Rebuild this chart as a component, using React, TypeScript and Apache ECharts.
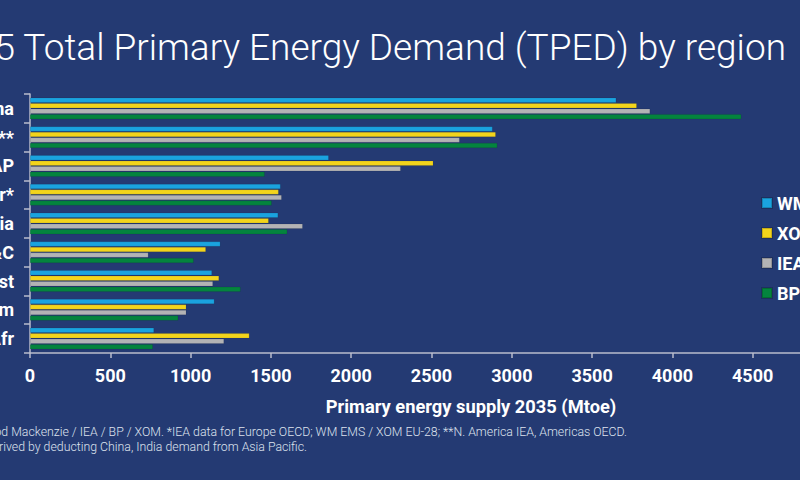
import React, { useEffect, useRef } from "react";
import * as echarts from "echarts";

const categories = ["China", "N. Am**", "Oth AP", "Eur*", "India", "Rus&C", "Mid East", "Lat Am", "Afr"];
const seriesNames = ["WM", "XOM", "IEA", "BP"];
const wmValues = [3650, 2880, 1860, 1560, 1545, 1185, 1133, 1148, 772];
const xomValues = [3778, 2900, 2511, 1548, 1486, 1095, 1177, 973, 1366];
const ieaValues = [3861, 2675, 2308, 1567, 1698, 737, 1139, 973, 1208];
const bpValues = [4429, 2910, 1461, 1505, 1602, 1019, 1311, 923, 765];
const colors = ["#1aa3df", "#f2d41c", "#b3b3b5", "#04843e"];
const xTicks = { min: 0, max: 5000, interval: 500 };

const titleText = "2035 Total Primary Energy Demand (TPED) by region";
const axisNameText = "Primary energy supply 2035 (Mtoe)";
const footnote1 = "Source: Wood Mackenzie / IEA / BP / XOM. *IEA data for Europe OECD; WM EMS / XOM EU-28; **N. America IEA, Americas OECD.";
const footnote2 = "***Other AP derived by deducting China, India demand from Asia Pacific.";

export default function App() {
  const ref = useRef<HTMLDivElement>(null);
  useEffect(() => {
    document.body.style.margin = "0";
    const chart = echarts.init(ref.current!, null, { renderer: "svg" });
    const values = [wmValues, xomValues, ieaValues, bpValues];
    chart.setOption({
      animation: false,
      backgroundColor: "#243a73",
      textStyle: { fontFamily: "Roboto" },
      grid: { left: 30, top: 94, width: 803, height: 259, containLabel: false, outerBoundsMode: "none" },
      legend: {
        orient: "vertical",
        left: 761,
        top: 194,
        padding: 0,
        icon: "rect",
        itemWidth: 10,
        itemHeight: 10,
        itemGap: 12,
        textStyle: { color: "#ffffff", fontSize: 18, fontWeight: "bold", lineHeight: 18, fontFamily: "Roboto" },
        data: seriesNames,
      },
      xAxis: {
        type: "value",
        min: xTicks.min,
        max: xTicks.max,
        interval: xTicks.interval,
        splitLine: { show: false },
        axisLine: { show: true, lineStyle: { color: "#b9bdcc", width: 1.5 } },
        axisTick: { show: true, length: 5, lineStyle: { color: "#b9bdcc", width: 1.5 } },
        axisLabel: {
          color: "#ffffff",
          fontSize: 18,
          fontWeight: "bold",
          margin: 13,
          fontFamily: "Roboto",
          formatter: (v: number) => String(v),
        },
      },
      yAxis: {
        type: "category",
        data: categories,
        inverse: true,
        axisLine: { show: true, lineStyle: { color: "#b9bdcc", width: 1.5 } },
        axisTick: { show: true, length: 6, lineStyle: { color: "#b9bdcc", width: 1.5 } },
        axisLabel: { color: "#ffffff", fontSize: 18, fontWeight: "bold", margin: 16, fontFamily: "Roboto" },
      },
      series: seriesNames.map((name, i) => ({
        name,
        type: "bar",
        data: values[i],
        barWidth: 5,
        barGap: "10%",
        itemStyle: { color: colors[i], borderColor: "rgba(0,0,0,0.18)", borderWidth: 0.5 },
      })),
      graphic: [
        {
          type: "text",
          x: 786,
          y: 47,
          style: { text: titleText, fill: "#ffffff", fontSize: 37, fontWeight: 300, fontFamily: "Roboto", align: "right", verticalAlign: "middle" },
        },
        {
          type: "text",
          x: 471,
          y: 406,
          style: { text: axisNameText, fill: "#ffffff", fontSize: 18.3, fontWeight: "bold", fontFamily: "Roboto", align: "center", verticalAlign: "middle" },
        },
        {
          type: "text",
          x: 627,
          y: 432,
          style: { text: footnote1, fill: "#dfe3ee", fontSize: 12.3, fontFamily: "Roboto", fontWeight: 300, align: "right", verticalAlign: "middle" },
        },
        {
          type: "text",
          x: 307,
          y: 447,
          style: { text: footnote2, fill: "#dfe3ee", fontSize: 12.3, fontFamily: "Roboto", fontWeight: 300, align: "right", verticalAlign: "middle" },
        },
      ],
    });
    return () => chart.dispose();
  }, []);
  return <div ref={ref} style={{ width: 800, height: 480 }} />;
}
